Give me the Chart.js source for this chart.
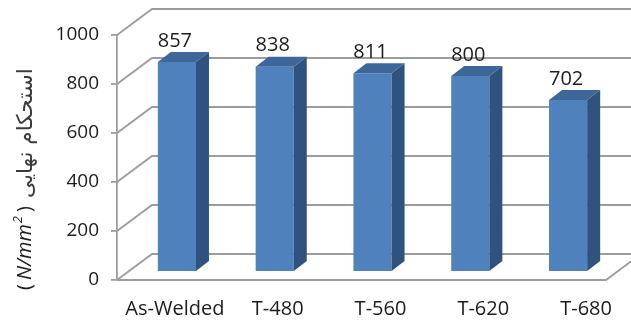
<!DOCTYPE html>
<html>
<head>
<meta charset="utf-8">
<script src="https://cdn.jsdelivr.net/npm/chart.js@4.4.0/dist/chart.umd.min.js"></script>
<style>
  html, body { margin: 0; padding: 0; background: #ffffff; }
  #wrap { width: 631px; height: 325px; }
</style>
</head>
<body>
<div id="wrap"><canvas id="c" width="631" height="325"></canvas></div>
<script>
// Data
const categories = ['As-Welded', 'T-480', 'T-560', 'T-620', 'T-680'];
const strength = [857, 838, 811, 800, 702];
const yTickValues = [0, 200, 400, 600, 800, 1000];
const titleArabic = 'استحکام نهایی';
const titleUnit = 'N/mm';
const titleUnitPower = '2';

// Styling for the pseudo-3D box
const WALL_DEPTH = { x: 35, y: -26 };
const BAR_SHIFT = { x: 11, y: -8 };
const BAR_DEPTH = { x: 13, y: -10 };
const GRID_COLOR = '#9c9c9c';
const TEXT_COLOR = '#1c1c1c';
const FACE_FRONT = '#4f81bd';
const FACE_TOP = '#3e6799';
const FACE_SIDE = '#30527f';
const LATIN_FONT = '"Open Sans", "Liberation Sans", sans-serif';

const depth3d = {
  id: 'depth3d',
  beforeDatasetsDraw(chart) {
    const { ctx, chartArea: a, scales: { y } } = chart;
    ctx.save();
    ctx.strokeStyle = GRID_COLOR;
    ctx.lineWidth = 1.8;
    // side wall + back wall gridlines
    yTickValues.forEach(v => {
      const py = y.getPixelForValue(v);
      ctx.beginPath();
      ctx.moveTo(a.left, py);
      ctx.lineTo(a.left + WALL_DEPTH.x, py + WALL_DEPTH.y);
      ctx.lineTo(a.right + WALL_DEPTH.x, py + WALL_DEPTH.y);
      ctx.stroke();
    });
    // floor front and right edges
    ctx.beginPath();
    ctx.moveTo(a.left, a.bottom);
    ctx.lineTo(a.right, a.bottom);
    ctx.lineTo(a.right + WALL_DEPTH.x, a.bottom + WALL_DEPTH.y);
    ctx.stroke();
    ctx.restore();
    // bars sit halfway back on the floor
    ctx.save();
    ctx.translate(BAR_SHIFT.x, BAR_SHIFT.y);
  },
  afterDatasetsDraw(chart) {
    const { ctx } = chart;
    ctx.restore();
    const meta = chart.getDatasetMeta(0);
    ctx.save();
    meta.data.forEach((el, i) => {
      const p = el.getProps(['x', 'y', 'base', 'width'], true);
      const xl = p.x - p.width / 2 + BAR_SHIFT.x;
      const xr = p.x + p.width / 2 + BAR_SHIFT.x;
      const top = p.y + BAR_SHIFT.y;
      const base = p.base + BAR_SHIFT.y;
      // side face
      ctx.fillStyle = FACE_SIDE;
      ctx.beginPath();
      ctx.moveTo(xr, top);
      ctx.lineTo(xr + BAR_DEPTH.x, top + BAR_DEPTH.y);
      ctx.lineTo(xr + BAR_DEPTH.x, base + BAR_DEPTH.y);
      ctx.lineTo(xr, base);
      ctx.closePath();
      ctx.fill();
      // top face
      ctx.fillStyle = FACE_TOP;
      ctx.beginPath();
      ctx.moveTo(xl, top);
      ctx.lineTo(xr, top);
      ctx.lineTo(xr + BAR_DEPTH.x, top + BAR_DEPTH.y);
      ctx.lineTo(xl + BAR_DEPTH.x, top + BAR_DEPTH.y);
      ctx.closePath();
      ctx.fill();
      // value label
      ctx.fillStyle = TEXT_COLOR;
      ctx.font = '20px ' + LATIN_FONT;
      ctx.textAlign = 'center';
      ctx.textBaseline = 'middle';
      ctx.fillText(String(strength[i]), p.x + BAR_SHIFT.x - 2, top - 21);
    });
    // category labels along the floor edge
    const x = chart.scales.x;
    const a = chart.chartArea;
    ctx.font = '20px ' + LATIN_FONT;
    ctx.fillStyle = TEXT_COLOR;
    ctx.textAlign = 'center';
    ctx.textBaseline = 'middle';
    categories.forEach((c, i) => {
      ctx.fillText(c, x.getPixelForValue(i) + 9 + 5 * i, a.bottom + 29);
    });
    ctx.restore();
  },
  afterDraw(chart) {
    // rotated axis title: (N/mm²) followed by the Persian caption
    const { ctx } = chart;
    ctx.save();
    ctx.translate(25, 0);
    ctx.rotate(-Math.PI / 2);
    ctx.fillStyle = TEXT_COLOR;
    ctx.textBaseline = 'middle';
    ctx.textAlign = 'left';
    let u = -290;
    ctx.font = '20px ' + LATIN_FONT;
    ctx.fillText('(', u, 0);
    u += ctx.measureText('(').width + 4;
    ctx.font = 'italic 20px ' + LATIN_FONT;
    ctx.fillText(titleUnit, u, 0);
    u += ctx.measureText(titleUnit).width + 1;
    ctx.font = 'italic 13px ' + LATIN_FONT;
    ctx.fillText(titleUnitPower, u, -7);
    u += ctx.measureText(titleUnitPower).width + 4;
    ctx.font = '20px ' + LATIN_FONT;
    ctx.fillText(')', u, 0);
    u += ctx.measureText(')').width + 8;
    // Persian caption, fitted to the remaining span
    ctx.fillStyle = '#3a3a3a';
    ctx.font = '15px "DejaVu Sans", sans-serif';
    const w = ctx.measureText(titleArabic).width;
    const target = -68 - u;
    const size = Math.max(10, Math.min(24, 15 * target / w));
    ctx.font = size.toFixed(1) + 'px "DejaVu Sans", sans-serif';
    ctx.fillText(titleArabic, u, 1);
    ctx.restore();
  }
};

new Chart(document.getElementById('c'), {
  type: 'bar',
  data: {
    labels: categories,
    datasets: [{
      data: strength,
      backgroundColor: FACE_FRONT,
      borderWidth: 0,
      categoryPercentage: 1,
      barPercentage: 0.39
    }]
  },
  options: {
    responsive: false,
    devicePixelRatio: 1,
    animation: false,
    layout: { padding: { left: 0, top: 35, right: 25, bottom: 45 } },
    plugins: { legend: { display: false }, tooltip: { enabled: false } },
    scales: {
      x: { display: false, offset: true },
      y: {
        min: 0,
        max: 1000,
        afterFit(s) { s.width = 117; },
        afterBuildTicks(s) { s.ticks = yTickValues.map(v => ({ value: v })); },
        ticks: {
          color: TEXT_COLOR,
          font: { family: LATIN_FONT, size: 19 },
          padding: 12,
          callback: v => String(v)
        },
        grid: { drawOnChartArea: false, drawTicks: true, tickLength: 6, color: GRID_COLOR, lineWidth: 1.8 },
        border: { display: true, color: GRID_COLOR, width: 1.8 }
      }
    }
  },
  plugins: [depth3d]
});
</script>
</body>
</html>
